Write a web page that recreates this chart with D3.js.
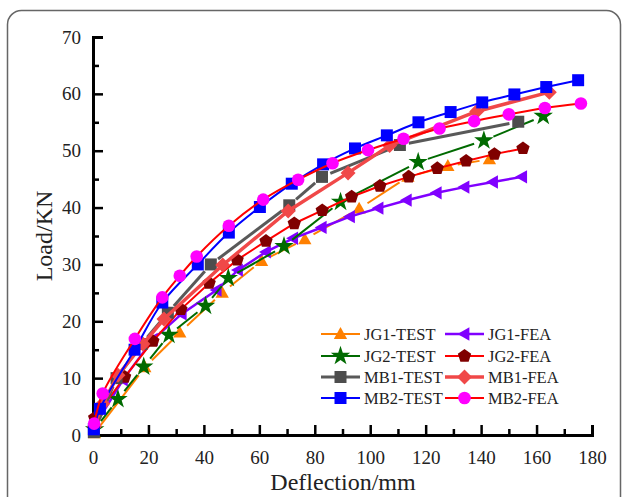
<!DOCTYPE html>
<html>
<head>
<meta charset="utf-8">
<script src="https://cdn.jsdelivr.net/npm/d3@7"></script>
<style>
  body { margin: 0; background: #fff; }
  svg text { font-family: "Liberation Serif", "Times New Roman", serif; fill: #222; }
</style>
</head>
<body>
<div id="chart"></div>
<script>
// Load-deflection data: [deflection (mm), load (kN)]
const jg1Test = [[0.5, 0.3], [18.7, 11.9], [31.3, 18], [46.6, 25], [60.8, 30.6], [76.4, 34.4],
  [96, 39.8], [113.6, 45.4], [128, 47.3], [143, 48.5]];
const jg1Fea = [[0.5, 1.5], [10.8, 9.7], [21.6, 16.8], [32, 21.3], [44.6, 25.5], [52.3, 29],
  [62.4, 32.2], [72.2, 34.6], [82.5, 36.5], [92.7, 38.4], [103, 39.9], [113.2, 41.3],
  [124, 42.6], [134, 43.6], [144.3, 44.5], [154.8, 45.4]];
const jg2Test = [[0.6, 1], [9, 6.3], [18.3, 12], [27.4, 17.6], [40.6, 22.7], [48.8, 27.6],
  [68.9, 33.2], [89.3, 41], [117.3, 48], [141, 51.8], [162.4, 56.1]];
const jg2Fea = [[0.6, 3], [11.4, 10.2], [21.6, 16.5], [31.7, 22.1], [41.9, 26.7], [52, 30.8],
  [62.4, 34.1], [72.6, 37.2], [82.7, 39.5], [93.3, 41.9], [103.5, 43.8], [113.9, 45.4],
  [124.2, 46.9], [134.6, 48.2], [144.8, 49.4], [155.1, 50.4]];
const mb1Test = [[0.3, 0.5], [8.5, 10], [17.5, 16], [27, 21.5], [42.5, 30], [70.8, 40.4],
  [82.6, 45.4], [110.7, 51], [153.4, 55.1]];
const mb1Fea = [[0.5, 1.5], [3.5, 5.5], [9, 10.5], [18, 16], [25.6, 20.4], [46.8, 29.9],
  [70.4, 39.4], [92, 46.1], [107, 50.9], [138.4, 56.9], [164.6, 60.3]];
const mb2Test = [[0.3, 1], [2.5, 4.6], [15, 15], [25, 23.3], [37.8, 30], [49, 35.6],
  [60.2, 40.1], [71.7, 44.2], [83, 47.6], [94.5, 50.4], [106, 52.7], [117.4, 55],
  [129, 56.8], [140.4, 58.5], [152, 59.9], [163.5, 61.2], [175, 62.4]];
const mb2Fea = [[0.4, 2], [3.5, 7.3], [15.1, 16.9], [25, 24.2], [31.3, 28], [37.4, 31.4],
  [49, 36.8], [61.4, 41.4], [74, 44.9], [86.4, 47.8], [99.2, 50.1], [112, 52.1],
  [125, 53.9], [137.5, 55.2], [150, 56.4], [163, 57.5], [176, 58.3]];

const seriesNames = ["JG1-TEST", "JG1-FEA", "JG2-TEST", "JG2-FEA", "MB1-TEST", "MB1-FEA", "MB2-TEST", "MB2-FEA"];
const xTicks = [0, 20, 40, 60, 80, 100, 120, 140, 160, 180];
const yTicks = [0, 10, 20, 30, 40, 50, 60, 70];

// styles per series
const series = [
  { name: seriesNames[0], data: jg1Test, line: "#ff8000", fill: "#ff8000", shape: "triUp", lw: 2, gap: true, size: 7 },
  { name: seriesNames[1], data: jg1Fea, line: "#8000ff", fill: "#8000ff", shape: "triLeft", lw: 2.5, size: 7 },
  { name: seriesNames[2], data: jg2Test, line: "#006a00", fill: "#006a00", shape: "star", lw: 2, gap: true, size: 7.3 },
  { name: seriesNames[3], data: jg2Fea, line: "#ff0000", fill: "#800000", shape: "pent", lw: 2, size: 7 },
  { name: seriesNames[4], data: mb1Test, line: "#595959", fill: "#4d4d4d", shape: "square", lw: 3, gap: true, size: 6 },
  { name: seriesNames[5], data: mb1Fea, line: "#f04848", fill: "#f04848", shape: "diamond", lw: 3.5, size: 7.5 },
  { name: seriesNames[6], data: mb2Test, line: "#0000ff", fill: "#0000ff", shape: "square", lw: 2, smooth: true, size: 6 },
  { name: seriesNames[7], data: mb2Fea, line: "#ff0000", fill: "#ff00ff", shape: "circle", lw: 2, smooth: true, size: 6.3 }
];

const width = 627, height = 497;
const margin = { top: 37, left: 93, right: 35, bottom: 62 };

const svg = d3.select("#chart").append("svg")
  .attr("width", width).attr("height", height);

// rounded frame
svg.append("rect")
  .attr("x", 7.5).attr("y", 10.5).attr("width", 613).attr("height", 540)
  .attr("rx", 14).attr("fill", "none").attr("stroke", "#666").attr("stroke-width", 1.5);

const x = d3.scaleLinear().domain([0, 180]).range([margin.left, 592]);
const y = d3.scaleLinear().domain([0, 70]).range([435, margin.top]);

// axes
const axisG = svg.append("g");
const xAxis = axisG.append("g").attr("transform", `translate(0,${y(0)})`)
  .call(d3.axisBottom(x).tickValues(d3.range(0, 181, 10)).tickSize(-10).tickPadding(12)
    .tickFormat(d => xTicks.includes(d) ? d : ""));
const yAxis = axisG.append("g").attr("transform", `translate(${x(0)},0)`)
  .call(d3.axisLeft(y).tickValues(d3.range(0, 71, 5)).tickSize(-10).tickPadding(12)
    .tickFormat(d => yTicks.includes(d) ? d : ""));

[xAxis, yAxis].forEach(a => {
  a.select(".domain").attr("stroke", "#000").attr("stroke-width", 3);
  a.selectAll(".tick line").attr("stroke", "#000").attr("stroke-width", 2.5);
  a.selectAll(".tick text").attr("font-size", 19).attr("font-family", "Liberation Serif").attr("fill", "#222");
});
xAxis.selectAll(".tick").filter(d => !xTicks.includes(d)).select("line").attr("y2", -6);
yAxis.selectAll(".tick").filter(d => !yTicks.includes(d)).select("line").attr("x2", 6);
xAxis.selectAll(".tick text").attr("dy", "0.9em");

svg.append("text").attr("x", 343).attr("y", 490).attr("text-anchor", "middle")
  .attr("font-size", 24).text("Deflection/mm");
svg.append("text").attr("transform", "translate(52,236) rotate(-90)").attr("text-anchor", "middle")
  .attr("font-size", 24).text("Load/KN");

// marker shapes
function shapePath(shape, r) {
  if (shape === "circle") return d3.symbol(d3.symbolCircle, Math.PI * r * r)();
  if (shape === "square") return `M${-r},${-r}H${r}V${r}H${-r}Z`;
  if (shape === "diamond") return `M0,${-r}L${r},0L0,${r}L${-r},0Z`;
  if (shape === "star") return d3.symbol(d3.symbolStar, r * r * 2.2)();
  if (shape === "triUp") {
    return `M0,${-r}L${r * 0.95},${r * 0.7}L${-r * 0.95},${r * 0.7}Z`;
  }
  if (shape === "triLeft") {
    return `M${-r},0L${r * 0.7},${-r * 0.95}L${r * 0.7},${r * 0.95}Z`;
  }
  if (shape === "pent") {
    const pts = d3.range(5).map(k => {
      const a = -Math.PI / 2 + k * 2 * Math.PI / 5;
      return [r * Math.cos(a), r * Math.sin(a)];
    });
    return "M" + pts.map(p => p.join(",")).join("L") + "Z";
  }
}

const plot = svg.append("g");

series.forEach(s => {
  const g = plot.append("g");
  const pts = s.data.map(d => [x(d[0]), y(d[1])]);
  if (s.gap) {
    const gap = s.size + 3;
    for (let i = 0; i < pts.length - 1; i++) {
      const [x0, y0] = pts[i], [x1, y1] = pts[i + 1];
      const dx = x1 - x0, dy = y1 - y0, len = Math.hypot(dx, dy);
      if (len <= gap * 2) continue;
      const ux = dx / len, uy = dy / len;
      g.append("line")
        .attr("x1", x0 + ux * gap).attr("y1", y0 + uy * gap)
        .attr("x2", x1 - ux * gap).attr("y2", y1 - uy * gap)
        .attr("stroke", s.line).attr("stroke-width", s.lw);
    }
  } else {
    const line = d3.line()
      .x(d => x(d[0])).y(d => y(d[1]))
      .curve(s.smooth ? d3.curveCatmullRom : d3.curveLinear);
    g.append("path").datum(s.data).attr("d", line)
      .attr("fill", "none").attr("stroke", s.line).attr("stroke-width", s.lw);
  }
  g.selectAll("path.mk").data(s.data).enter().append("path")
    .attr("class", "mk")
    .attr("transform", d => `translate(${x(d[0])},${y(d[1])})`)
    .attr("d", shapePath(s.shape, s.size))
    .attr("fill", s.fill);
});

// legend
const legendRows = [334, 356, 377, 398];
const legendCols = [{ x0: 321, x1: 360, tx: 364 }, { x0: 445, x1: 484, tx: 488 }];
series.forEach((s, i) => {
  const col = legendCols[i % 2], row = legendRows[Math.floor(i / 2)];
  const lg = svg.append("g");
  lg.append("line").attr("x1", col.x0).attr("x2", col.x1).attr("y1", row).attr("y2", row)
    .attr("stroke", s.line).attr("stroke-width", s.lw);
  lg.append("path").attr("transform", `translate(${(col.x0 + col.x1) / 2},${row})`)
    .attr("d", shapePath(s.shape, s.size)).attr("fill", s.fill);
  lg.append("text").attr("x", col.tx).attr("y", row).attr("dy", "0.35em")
    .attr("font-size", 16.5).text(s.name);
});
</script>
</body>
</html>
